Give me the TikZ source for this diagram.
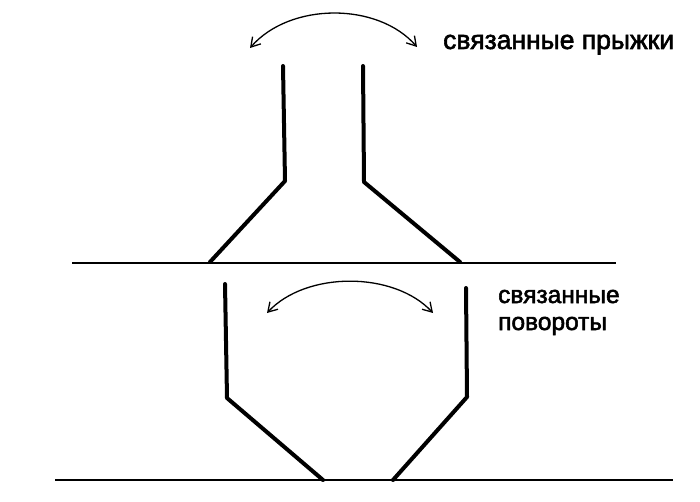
\documentclass[tikz,border=0pt]{standalone}
\usepackage{fontspec}
\setmainfont{Liberation Sans}
\newfontfamily\heavyfont[FakeBold=2.2]{Liberation Sans}
\usetikzlibrary{arrows.meta}
\begin{document}
\begin{tikzpicture}[x=1pt,y=-1pt,
  wall/.style={line width=4pt,line cap=round,line join=round},
  ground/.style={line width=1.8pt},
  swing/.style={line width=1.3pt,{Straight Barb[length=9pt,width=11pt,line width=1.3pt]}-{Straight Barb[length=9pt,width=11pt,line width=1.3pt]}},
  label/.style={inner sep=0pt,anchor=base west,align=left}]
\useasboundingbox (0,0) rectangle (700,502);
\fill[white] (0,0) rectangle (700,502);
% top figure
\coordinate (tl1) at (283,66); \coordinate (tl2) at (285,181); \coordinate (tl3) at (210,262);
\coordinate (tr1) at (363,66); \coordinate (tr2) at (364,182); \coordinate (tr3) at (460,262);
\coordinate (g1a) at (72,263); \coordinate (g1b) at (616,263);
\draw[ground] (g1a) -- (g1b);
\draw[wall] (tl1) -- (tl2) -- (tl3);
\draw[wall] (tr1) -- (tr2) -- (tr3);
% top arrow
\coordinate (ta1) at (250,48); \coordinate (ta2) at (417,47);
\draw[swing] (ta1) .. controls (290,2) and (378,2) .. (ta2);
\node[label,font=\heavyfont\fontsize{26.5}{30}\selectfont] (t1) at (443,49) {связанные прыжки};
% bottom figure
\coordinate (bl1) at (225,284); \coordinate (bl2) at (227,398); \coordinate (bl3) at (323,480);
\coordinate (br1) at (466,288); \coordinate (br2) at (467,397); \coordinate (br3) at (393,480);
\coordinate (g2a) at (55,480); \coordinate (g2b) at (673,480);
\draw[ground] (g2a) -- (g2b);
\draw[wall] (bl1) -- (bl2) -- (bl3);
\draw[wall] (br1) -- (br2) -- (br3);
% bottom arrow
\coordinate (ba1) at (267,313); \coordinate (ba2) at (433,313);
\draw[swing] (ba1) .. controls (306,271) and (394,271) .. (ba2);
\node[label,font=\heavyfont\fontsize{24.5}{27}\selectfont] (t2) at (498,330) {связанные\\повороты};
\end{tikzpicture}
\end{document}
